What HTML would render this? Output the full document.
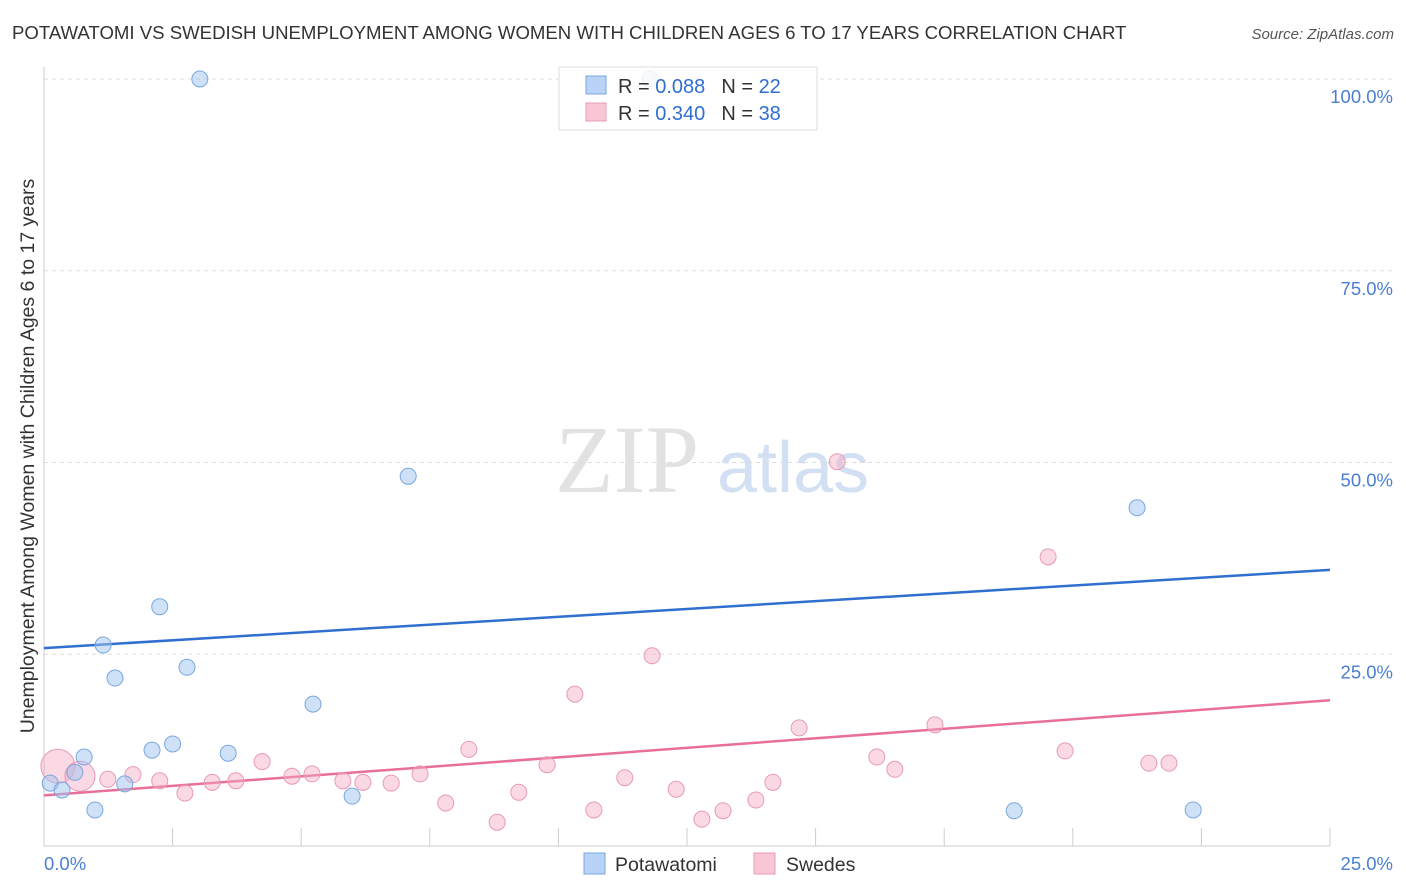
<!DOCTYPE html>
<html><head><meta charset="utf-8"><style>
body{margin:0;background:#fff;font-family:"Liberation Sans",sans-serif}
</style></head><body>
<svg id="c" width="1406" height="892" xmlns="http://www.w3.org/2000/svg" style="display:block">
<text x="12" y="39" font-size="18.6" fill="#333">POTAWATOMI VS SWEDISH UNEMPLOYMENT AMONG WOMEN WITH CHILDREN AGES 6 TO 17 YEARS CORRELATION CHART</text>
<text x="1394" y="39" font-size="15" fill="#555" font-style="italic" text-anchor="end">Source: ZipAtlas.com</text>
<g><text x="555" y="492" font-family="Liberation Serif" font-size="96" fill="#e2e2e2">ZIP</text><text x="717" y="492" font-size="72" fill="#d3e0f3">atlas</text></g>
<g id="grid"></g>
<g id="axes"></g>
<g id="lines"></g>
<g id="pts"></g>
<text x="-456" y="34" transform="rotate(-90)" font-size="19.5" fill="#333" text-anchor="middle">Unemployment Among Women with Children Ages 6 to 17 years</text>
<g>
<rect x="559" y="67" width="258" height="63" fill="#fff" fill-opacity="0.85" stroke="#ddd"/>
<rect x="586" y="76" width="20" height="18" fill="#b8d3f5" stroke="#7aa7e0"/>
<rect x="586" y="103" width="20" height="18" fill="#f9c6d6" stroke="#e89ab5"/>
<text x="618" y="93" font-size="20" fill="#333">R = <tspan fill="#2f6fd0">0.088</tspan><tspan dx="16">N = </tspan><tspan fill="#2f6fd0">22</tspan></text>
<text x="618" y="120" font-size="20" fill="#333">R = <tspan fill="#2f6fd0">0.340</tspan><tspan dx="16">N = </tspan><tspan fill="#2f6fd0">38</tspan></text>
</g>
<g>
<rect x="584" y="853" width="21" height="21" fill="#b8d3f5" stroke="#7aa7e0"/>
<text x="615" y="871" font-size="19.5" fill="#333">Potawatomi</text>
<rect x="754" y="853" width="21" height="21" fill="#f9c6d6" stroke="#e89ab5"/>
<text x="786" y="871" font-size="19.5" fill="#333">Swedes</text>
</g>
</svg>
<script>
const yTicks=[25,50,75,100];
const yTickLabels=["25.0%","50.0%","75.0%","100.0%"];
const xTickLabels=["0.0%","25.0%"];
const blueX=[0.12,0.35,0.6,0.78,0.99,1.15,1.38,1.57,2.1,2.25,2.5,2.78,3.03,3.58,5.23,5.99,7.08,11.78,18.86,21.25,22.34];
const blueY=[8.2,7.3,9.6,11.6,4.7,26.2,21.9,8.1,12.5,31.2,13.3,23.3,100,12.1,18.5,6.5,48.2,100,4.6,44.1,4.7];
const pinkX=[0.27,0.7,1.24,1.73,2.25,2.74,3.27,3.73,4.24,4.82,5.21,5.81,6.2,6.75,7.31,7.81,8.26,8.81,9.23,9.78,10.32,10.69,11.29,11.82,12.29,12.79,13.2,13.84,14.17,14.68,15.42,16.19,16.54,17.32,19.52,19.85,21.48,21.87];
const pinkY=[10.4,9.1,8.7,9.3,8.5,6.9,8.3,8.5,11.0,9.1,9.4,8.5,8.3,8.2,9.4,5.6,12.6,3.1,7.0,10.6,19.8,4.7,8.9,24.8,7.4,3.5,4.6,6.0,8.3,15.4,50.1,11.6,10.0,15.8,37.7,12.4,10.8,10.8];
const pinkR=[17,15];
const blueTrend=[25.8,36.0];
const pinkTrend=[6.6,19.0];
const NS='http://www.w3.org/2000/svg';
const X=v=>44+v*(1286/25), Y=v=>846-v*7.67;
function mk(p,t,a){const e=document.createElementNS(NS,t);for(const k in a)e.setAttribute(k,a[k]);p.appendChild(e);return e;}
const grid=document.getElementById('grid'),axes=document.getElementById('axes');
yTicks.forEach((t,i)=>{
 const l=mk(grid,'line',{x1:44,x2:1394,y1:Y(t),y2:Y(t),stroke:'#ddd','stroke-dasharray':'4 4'});
 
 
 const tx=mk(axes,'text',{x:1393,y:Y(t)+24,'font-size':18.5,fill:'#4a7fd0','text-anchor':'end'});
 tx.textContent=yTickLabels[i];
 
 
});
mk(axes,'line',{x1:44,x2:44,y1:67,y2:846,stroke:'#ccc'});
mk(axes,'line',{x1:44,x2:1330,y1:846,y2:846,stroke:'#ccc'});
for(let i=0;i<=10;i++){const t=mk(axes,'line',{x1:X(i*2.5),x2:X(i*2.5),y1:828,y2:846,stroke:'#ccc'});
 
 }
const xl0=mk(axes,'text',{x:44,y:870,'font-size':18.5,fill:'#4a7fd0'});xl0.textContent=xTickLabels[0];

const xl1=mk(axes,'text',{x:1393,y:870,'font-size':18.5,fill:'#4a7fd0','text-anchor':'end'});xl1.textContent=xTickLabels[1];

const pts=document.getElementById('pts'),lines=document.getElementById('lines');
pinkX.forEach((x,i)=>{const c=mk(pts,'circle',{cx:X(x),cy:Y(pinkY[i]),r:pinkR[i]||8,fill:'rgba(244,170,195,0.45)',stroke:'#e89ab5','stroke-width':1});
 
 });
blueX.forEach((x,i)=>{const c=mk(pts,'circle',{cx:X(x),cy:Y(blueY[i]),r:8,fill:'rgba(160,196,240,0.5)',stroke:'#7aa7e0','stroke-width':1});
 
 });
const bl=mk(lines,'line',{x1:X(0),x2:X(25),y1:Y(blueTrend[0]),y2:Y(blueTrend[1]),stroke:'#2f6fd0','stroke-width':2.5});


const pl=mk(lines,'line',{x1:X(0),x2:X(25),y1:Y(pinkTrend[0]),y2:Y(pinkTrend[1]),stroke:'#e86f9a','stroke-width':2.5});


</script>
</body></html>
